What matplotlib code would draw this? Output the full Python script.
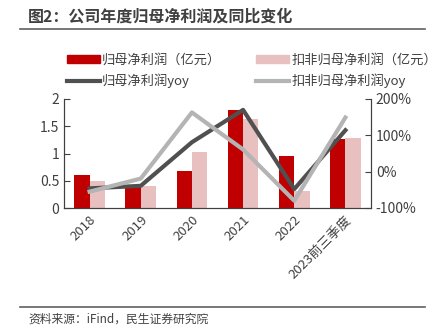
import matplotlib
matplotlib.use("Agg")
import matplotlib.pyplot as plt
import numpy as np
from matplotlib.lines import Line2D
from matplotlib.patches import Patch

plt.rcParams['font.family'] = ['Noto Sans CJK SC', 'DejaVu Sans']

categories = ['2018', '2019', '2020', '2021', '2022', '2023前三季度']
net_profit = [0.61, 0.39, 0.68, 1.80, 0.95, 1.27]
net_profit_ex = [0.50, 0.40, 1.03, 1.63, 0.32, 1.29]
yoy = [-46, -39, 81, 170, -48, 114]
yoy_ex = [-55, -19, 163, 61, -80, 149]

c_red = '#C00000'
c_pink = '#E8C0C0'
c_dark = '#505050'
c_gray = '#B4B4B4'

fig = plt.figure(figsize=(4.38, 3.29), dpi=100)
ax = fig.add_axes([64/438, 1-208/329, (371-64)/438, (208-99)/329])
ax2 = ax.twinx()

x = np.arange(len(categories))
w = 0.3
ax.bar(x - w/2, net_profit, w, color=c_red, zorder=2)
ax.bar(x + w/2, net_profit_ex, w, color=c_pink, zorder=2)
ax2.plot(x, yoy, color=c_dark, lw=3, zorder=3)
ax2.plot(x, yoy_ex, color=c_gray, lw=3, zorder=3)

ax.set_xlim(-0.5, len(categories) - 0.5)
ax.set_ylim(0, 2)
ax.set_yticks([0, 0.5, 1, 1.5, 2])
ax.set_yticklabels(['0', '0.5', '1', '1.5', '2'])
ax2.set_ylim(-100, 200)
ax2.set_yticks([-100, 0, 100, 200])
ax2.set_yticklabels(['-100%', '0%', '100%', '200%'])

ax.set_xticks(x)
ax.set_xticklabels(categories, rotation=45, ha='right', rotation_mode='anchor')

for a in (ax, ax2):
    a.spines['top'].set_visible(False)
    for s in ('left', 'right', 'bottom'):
        a.spines[s].set_color('#404040')
        a.spines[s].set_linewidth(0.8)
    a.tick_params(axis='y', direction='in', length=4, colors='#404040', labelsize=10, labelcolor='#404040')
ax.tick_params(axis='x', length=0, labelsize=9.5, labelcolor='#404040', pad=4)
ax2.patch.set_visible(False)

fig.text(28/438, 1-17/329, '图2：公司年度归母净利润及同比变化', fontsize=11.5, fontweight='bold',
         color='#404040', va='center', ha='left')
fig.add_artist(Line2D([20/438, 425/438], [1-29/329, 1-29/329], color='#606060', lw=1.2))
fig.add_artist(Line2D([20/438, 425/438], [1-307/329, 1-307/329], color='#606060', lw=1.2))
fig.text(28/438, 1-319/329, '资料来源：iFind，民生证券研究院', fontsize=8.5, color='#404040',
         va='center', ha='left')

handles = [Patch(color=c_red), Line2D([0], [0], color=c_dark, lw=3),
           Patch(color=c_pink), Line2D([0], [0], color=c_gray, lw=3)]
labels = ['归母净利润（亿元）', '归母净利润yoy', '扣非归母净利润（亿元）', '扣非归母净利润yoy']
fig.legend(handles, labels, ncol=2, loc='center left', bbox_to_anchor=(60/438, 1-71/329),
           frameon=False, fontsize=9.5, handlelength=2.5, handleheight=0.6,
           handletextpad=0.15, columnspacing=2.7, labelspacing=0.5,
           labelcolor='#404040', borderpad=0)

fig.savefig('out.png', dpi=100)
